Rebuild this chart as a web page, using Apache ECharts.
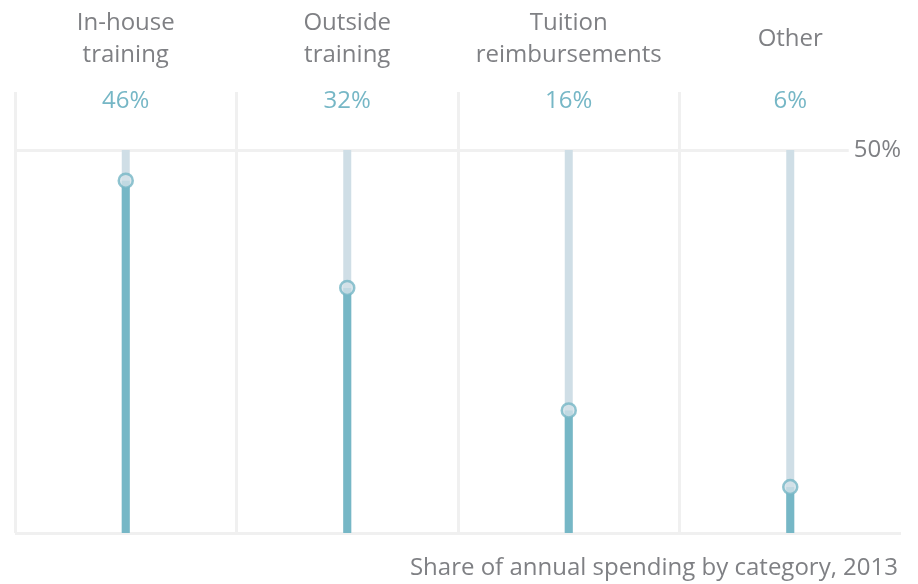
<!DOCTYPE html>
<html>
<head>
<meta charset="utf-8">
<script src="https://cdn.jsdelivr.net/npm/echarts@6/dist/echarts.min.js"></script>
<style>
  html, body { margin: 0; padding: 0; background: #fff; }
  #chart { width: 918px; height: 584px; }
</style>
</head>
<body>
<div id="chart"></div>
<script>
const categories = ['In-house\ntraining', 'Outside\ntraining', 'Tuition\nreimbursements', 'Other'];
const shares = [46, 32, 16, 6];
const axisMax = 50;
const footnote = 'Share of annual spending by category, 2013';

const FONT = '"Open Sans", "Noto Sans", sans-serif';
const GREY = '#7f8084';
const TEAL = '#76b7c6';
const PALE = '#cfdee6';
const RULE = '#f0f0f0';

const chart = echarts.init(document.getElementById('chart'));

chart.setOption({
  animation: false,
  title: {
    text: footnote,
    right: 15,
    top: 551,
    textStyle: { color: GREY, fontSize: 24, fontWeight: 'normal', fontFamily: FONT },
  },
  grid: [
    { left: 15, right: 17, top: 150, bottom: 51 },
    { left: 15, right: 17, top: 92, bottom: 51 },
  ],
  xAxis: [
    {
      type: 'category',
      gridIndex: 0,
      position: 'top',
      data: categories,
      axisLine: { show: false },
      axisTick: { show: false },
      splitLine: { show: false },
      axisLabel: {
        color: GREY,
        fontSize: 24,
        fontFamily: FONT,
        lineHeight: 32,
        verticalAlign: 'middle',
        margin: 111,
        interval: 0,
      },
    },
    {
      type: 'category',
      gridIndex: 1,
      position: 'top',
      data: categories,
      axisLine: { show: false },
      axisTick: { show: false },
      splitLine: {
        show: true,
        lineStyle: { color: [RULE, RULE, RULE, RULE, 'rgba(0,0,0,0)'], width: 3 },
      },
      axisLabel: {
        inside: true,
        color: TEAL,
        fontSize: 24,
        fontFamily: FONT,
        verticalAlign: 'middle',
        margin: 9,
        interval: 0,
        formatter: (v, i) => shares[i] + '%',
      },
    },
  ],
  yAxis: [
    {
      type: 'value',
      gridIndex: 0,
      position: 'right',
      min: 0,
      max: axisMax,
      interval: axisMax,
      axisLine: { show: false },
      axisTick: { show: false },
      splitLine: { show: true, lineStyle: { color: RULE, width: 3 } },
      axisLabel: {
        inside: true,
        margin: 0,
        showMinLabel: false,
        color: GREY,
        fontSize: 24,
        fontFamily: FONT,
        backgroundColor: '#fff',
        padding: [2, 0, 2, 5],
        formatter: '{value}%',
      },
    },
    { type: 'value', gridIndex: 1, show: false },
  ],
  series: [
    {
      type: 'bar',
      xAxisIndex: 0,
      yAxisIndex: 0,
      data: shares,
      barWidth: 8,
      showBackground: true,
      backgroundStyle: { color: PALE },
      itemStyle: { color: TEAL },
      z: 2,
    },
    {
      type: 'scatter',
      xAxisIndex: 0,
      yAxisIndex: 0,
      data: shares,
      symbol: 'circle',
      symbolSize: 14,
      itemStyle: { color: '#d3e1e8', borderColor: TEAL, borderWidth: 2.5 },
      z: 3,
    },
  ],
});
</script>
</body>
</html>
